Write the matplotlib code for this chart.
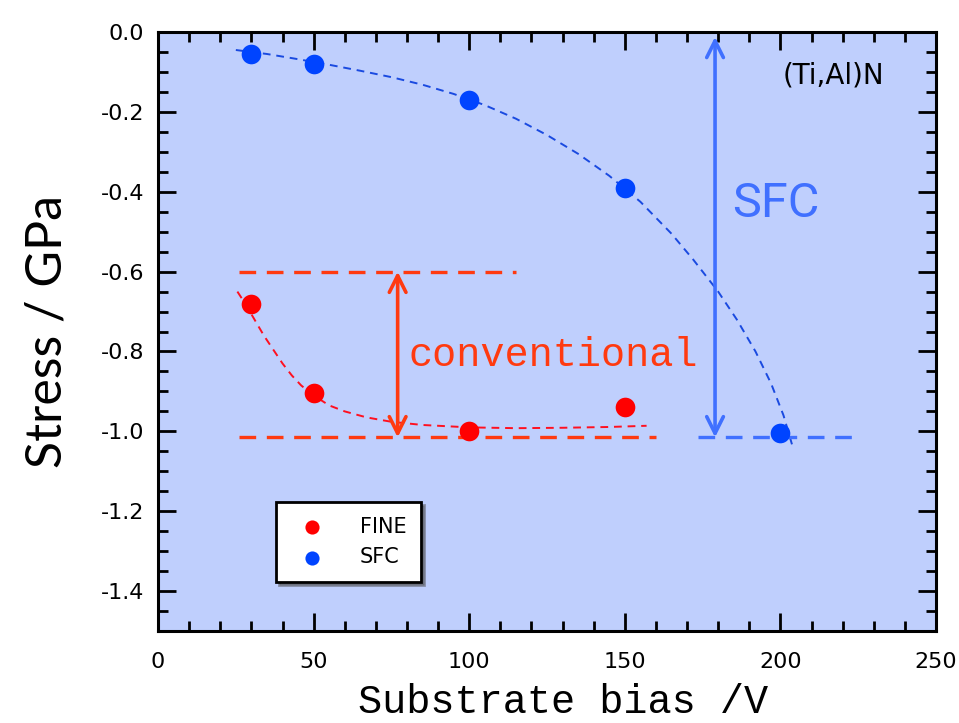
import numpy as np
import matplotlib
matplotlib.use("Agg")
import matplotlib.pyplot as plt
from matplotlib.ticker import MultipleLocator

# Data
bias = [30, 50, 100, 150, 200]
stress_sfc = [-0.055, -0.08, -0.17, -0.39, -1.005]
bias_fine = [30, 50, 100, 150]
stress_fine = [-0.68, -0.905, -1.0, -0.94]

# guide curves
guide_sfc_x = [25, 35, 45, 55, 65, 75, 85, 95, 105, 115, 125, 135, 145, 155, 165, 172, 180, 186, 192, 197, 201, 204]
guide_sfc_y = [-0.045, -0.055, -0.068, -0.082, -0.097, -0.113, -0.132, -0.155, -0.183, -0.217, -0.258, -0.305, -0.36, -0.425, -0.505, -0.57, -0.65, -0.72, -0.8, -0.88, -0.96, -1.04]
guide_fine_x = [25.5, 28, 31, 34, 37, 40, 43, 46, 50, 55, 60, 67, 75, 85, 100, 115, 130, 145, 157]
guide_fine_y = [-0.65, -0.68, -0.72, -0.76, -0.795, -0.83, -0.86, -0.885, -0.91, -0.935, -0.95, -0.965, -0.976, -0.984, -0.99, -0.992, -0.991, -0.989, -0.986]

RED = "#ff0000"
BLUE = "#0044ff"
ORANGE = "#ff3a10"
LBLUE = "#4070ff"
BG = "#bfcffd"

fig = plt.figure(figsize=(9.59, 7.23), dpi=100)
ax = fig.add_axes([0.1648, 0.1272, 0.8112, 0.8285])
ax.set_facecolor(BG)

ax.plot(guide_sfc_x, guide_sfc_y, ls=(0, (4, 3)), color="#1a4ae0", lw=1.4, zorder=2)
ax.plot(guide_fine_x, guide_fine_y, ls=(0, (4, 3)), color="#ff1020", lw=1.4, zorder=2)

# reference levels
ax.plot([26, 115], [-0.6, -0.6], ls=(0, (5, 3.2)), color=ORANGE, lw=2.4, zorder=2)
ax.plot([26, 160], [-1.015, -1.015], ls=(0, (5, 3.2)), color=ORANGE, lw=2.4, zorder=2)
ax.plot([173.5, 226], [-1.015, -1.015], ls=(0, (5, 3.2)), color=LBLUE, lw=2.4, zorder=2)

arrow_style = "<->,head_length=1.2,head_width=0.6"
ax.annotate("", xy=(77, -0.6), xytext=(77, -1.015),
            arrowprops=dict(arrowstyle=arrow_style, color=ORANGE, lw=2.6, shrinkA=0, shrinkB=0))
ax.annotate("", xy=(179, -0.012), xytext=(179, -1.015),
            arrowprops=dict(arrowstyle=arrow_style, color=LBLUE, lw=2.6, shrinkA=0, shrinkB=0))

ax.scatter(bias_fine, stress_fine, s=200, color=RED, label="FINE", zorder=3, linewidths=0)
ax.scatter(bias, stress_sfc, s=200, color=BLUE, label="SFC", zorder=3, linewidths=0)

ax.text(80.5, -0.81, "conventional", color=ORANGE, fontsize=29, family="Liberation Mono",
        ha="left", va="center")
ax.text(198.5, -0.43, "SFC", color=LBLUE, fontsize=35, family="Roboto",
        ha="center", va="center")
ax.text(217, -0.11, "(Ti,Al)N", color="black", fontsize=20, family="DejaVu Sans",
        ha="center", va="center")

ax.set_xlim(0, 250)
ax.set_ylim(-1.5, 0)
ax.xaxis.set_major_locator(MultipleLocator(50))
ax.xaxis.set_minor_locator(MultipleLocator(10))
ax.yaxis.set_major_locator(MultipleLocator(0.2))
ax.yaxis.set_minor_locator(MultipleLocator(0.05))
ax.yaxis.set_major_formatter(plt.FuncFormatter(lambda v, p: f"{v:.1f}".replace("-0.0", "0.0")))
ax.tick_params(which="both", direction="in", top=True, right=True, width=2)
ax.tick_params(which="major", length=13, labelsize=16, pad=10)
ax.tick_params(axis="x", which="major", pad=15)
ax.tick_params(which="minor", length=7)
for s in ax.spines.values():
    s.set_linewidth(2.2)

ax.set_xlabel("Substrate bias /V", fontsize=29, family="Liberation Mono", labelpad=8)
ax.xaxis.label.set_x(0.52)
ax.set_ylabel("Stress / GPa", fontsize=36, family="Lato", labelpad=22)

leg = ax.legend(loc="lower left", bbox_to_anchor=(0.152, 0.082), fontsize=15, frameon=True,
                fancybox=False, shadow=True, edgecolor="black", framealpha=1,
                handletextpad=1.3, borderpad=0.7, borderaxespad=0, markerscale=0.72)
leg.get_frame().set_linewidth(2)

fig.savefig("out.png", dpi=100)
